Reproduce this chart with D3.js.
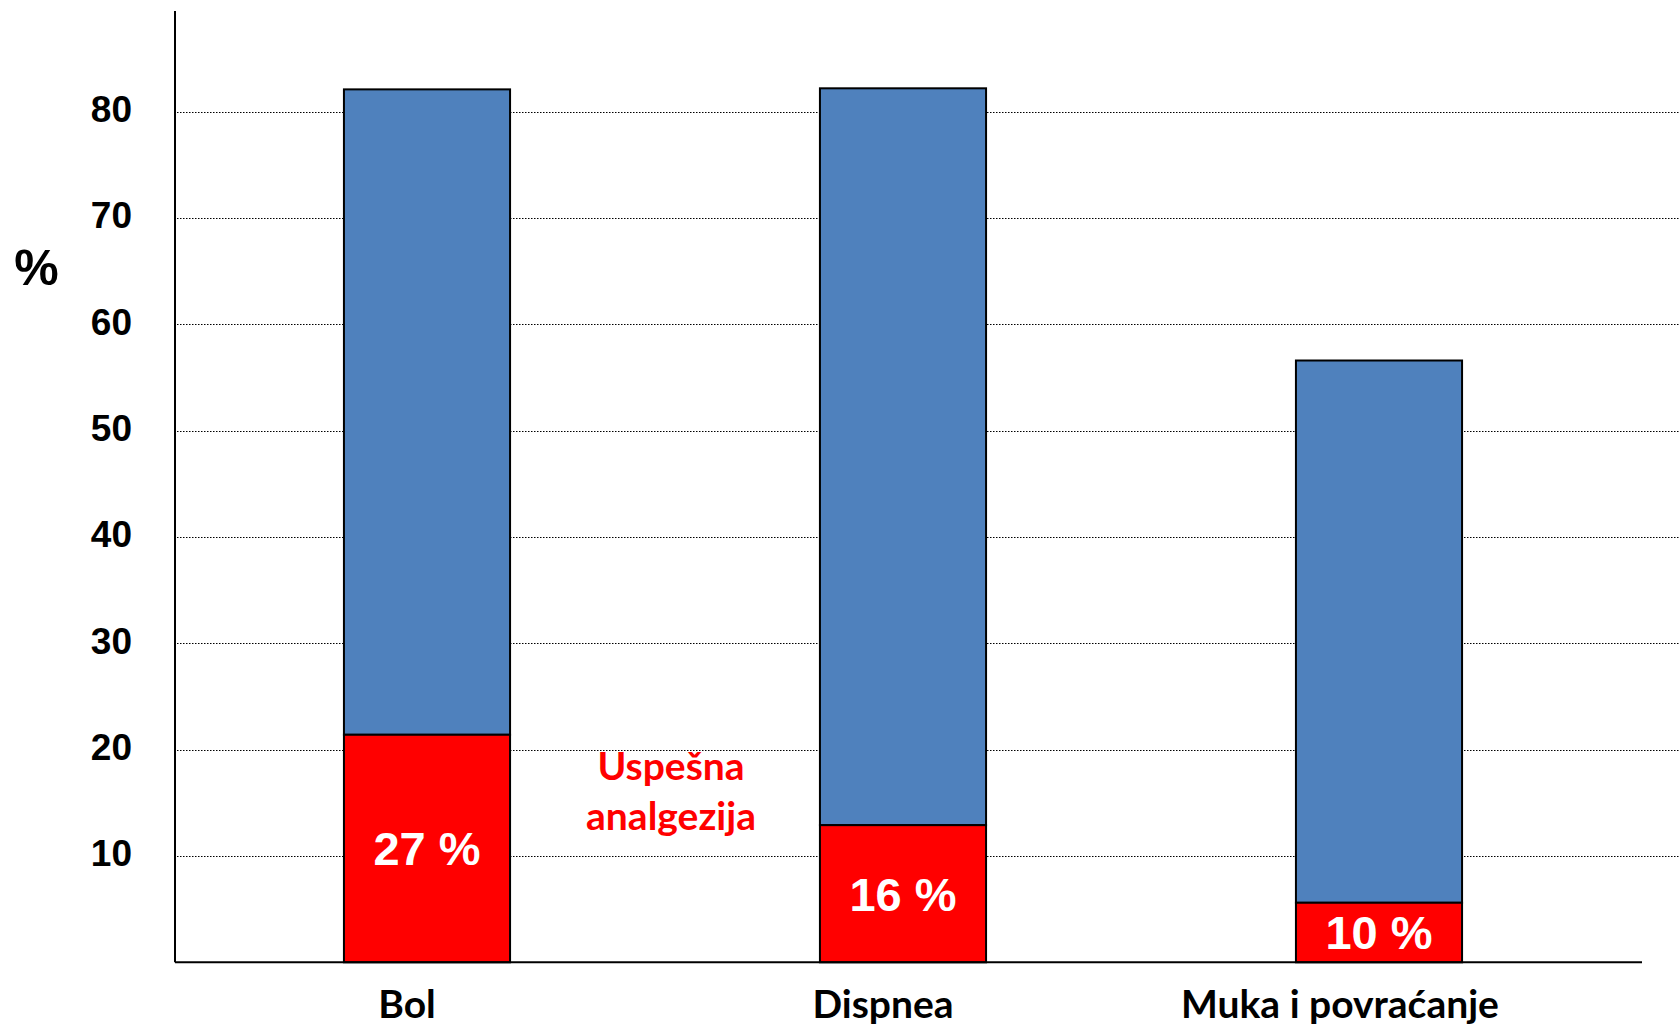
<!DOCTYPE html>
<html>
<head>
<meta charset="utf-8">
<script src="https://cdn.jsdelivr.net/npm/d3@7"></script>
<style>
  html, body { margin: 0; padding: 0; background: #fff; }
  svg { display: block; }
</style>
</head>
<body>
<svg id="chart" width="1679" height="1028"></svg>
<script>
// categories and values
var categories = ['Bol', 'Dispnea', 'Muka i povraćanje'];
var totalValues = [82.1, 82.2, 56.6];     // full bar height (blue top)
var successValues = [21.4, 12.9, 5.6];    // red part
var successLabels = ['27 %', '16 %', '10 %'];
var yTicks = [10, 20, 30, 40, 50, 60, 70, 80];
var note = ['Uspešna', 'analgezija'];

var svg = d3.select('#chart');
var W = 1679;

var x = d3.scaleBand()
	.domain(categories)
	.range([189, 1617])
	.paddingInner(0.651)
	.paddingOuter(0.3255);

var y = d3.scaleLinear()
	.domain([0, 80])
	.range([962.3, 111.7]);

var axisX0 = 175, axisX1 = 1642;
var arial = '"Liberation Sans", Arial, sans-serif';
var calibri = 'Lato, "Open Sans", sans-serif';

// gridlines (dotted)
svg.append('g').attr('class', 'grid')
	.selectAll('line')
	.data(yTicks)
	.enter().append('line')
	.attr('x1', axisX0 + 2)
	.attr('x2', W)
	.attr('y1', function(d){ return Math.round(y(d)) + 0.5; })
	.attr('y2', function(d){ return Math.round(y(d)) + 0.5; })
	.attr('stroke', '#000')
	.attr('stroke-width', 1.2)
	.attr('stroke-dasharray', '1.5,1.5');

// y tick labels
svg.append('g').attr('class', 'ylabels')
	.selectAll('text')
	.data(yTicks)
	.enter().append('text')
	.attr('x', 132)
	.attr('y', function(d){ return y(d); })
	.attr('dy', '0.28em')
	.attr('text-anchor', 'end')
	.style('font-family', arial)
	.style('font-weight', 'bold')
	.style('font-size', '37px')
	.text(function(d){ return d; });

svg.append('text')
	.attr('x', 36.5)
	.attr('y', 267)
	.attr('dy', '0.36em')
	.attr('text-anchor', 'middle')
	.style('font-family', arial)
	.style('font-weight', 'bold')
	.style('font-size', '50px')
	.text('%');

// bars
var bars = svg.append('g').attr('class', 'bars')
	.selectAll('g')
	.data(categories)
	.enter().append('g');

bars.append('rect')
	.attr('x', function(d){ return x(d); })
	.attr('width', x.bandwidth())
	.attr('y', function(d, i){ return y(totalValues[i]); })
	.attr('height', function(d, i){ return y(successValues[i]) - y(totalValues[i]); })
	.attr('fill', '#4F81BD')
	.attr('stroke', '#000')
	.attr('stroke-width', 2);

bars.append('rect')
	.attr('x', function(d){ return x(d); })
	.attr('width', x.bandwidth())
	.attr('y', function(d, i){ return y(successValues[i]); })
	.attr('height', function(d, i){ return y(0) - y(successValues[i]); })
	.attr('fill', '#FF0000')
	.attr('stroke', '#000')
	.attr('stroke-width', 2);

bars.append('text')
	.attr('x', function(d){ return x(d) + x.bandwidth() / 2; })
	.attr('y', function(d, i){ return (y(0) + y(successValues[i])) / 2; })
	.attr('dy', '0.36em')
	.attr('text-anchor', 'middle')
	.attr('fill', '#fff')
	.style('font-family', arial)
	.style('font-weight', 'bold')
	.style('font-size', '47px')
	.text(function(d, i){ return successLabels[i]; });

// axes lines
svg.append('line')
	.attr('x1', axisX0).attr('x2', axisX0)
	.attr('y1', 11).attr('y2', y(0))
	.attr('stroke', '#000').attr('stroke-width', 2);
svg.append('line')
	.attr('x1', axisX0).attr('x2', axisX1)
	.attr('y1', y(0)).attr('y2', y(0))
	.attr('stroke', '#000').attr('stroke-width', 2);

// category labels (sit a little left of the bars, as in the slide)
svg.append('g').attr('class', 'xlabels')
	.selectAll('text')
	.data(categories)
	.enter().append('text')
	.attr('x', function(d, i){ return x(d) + x.bandwidth() / 2 - (i == 2 ? 39 : 20); })
	.attr('y', 1018)
	.attr('text-anchor', 'middle')
	.style('font-family', calibri)
	.style('font-weight', 'bold')
	.style('font-size', '39px')
	.text(function(d){ return d; });

// note in red
svg.append('text')
	.attr('x', 671)
	.attr('y', 780)
	.attr('text-anchor', 'middle')
	.attr('fill', '#FF0000')
	.style('font-family', calibri)
	.style('font-weight', 'bold')
	.style('font-size', '39px')
	.selectAll('tspan')
	.data(note)
	.enter().append('tspan')
	.attr('x', 671)
	.attr('dy', function(d, i){ return i == 0 ? 0 : 50; })
	.text(function(d){ return d; });
</script>
</body>
</html>
